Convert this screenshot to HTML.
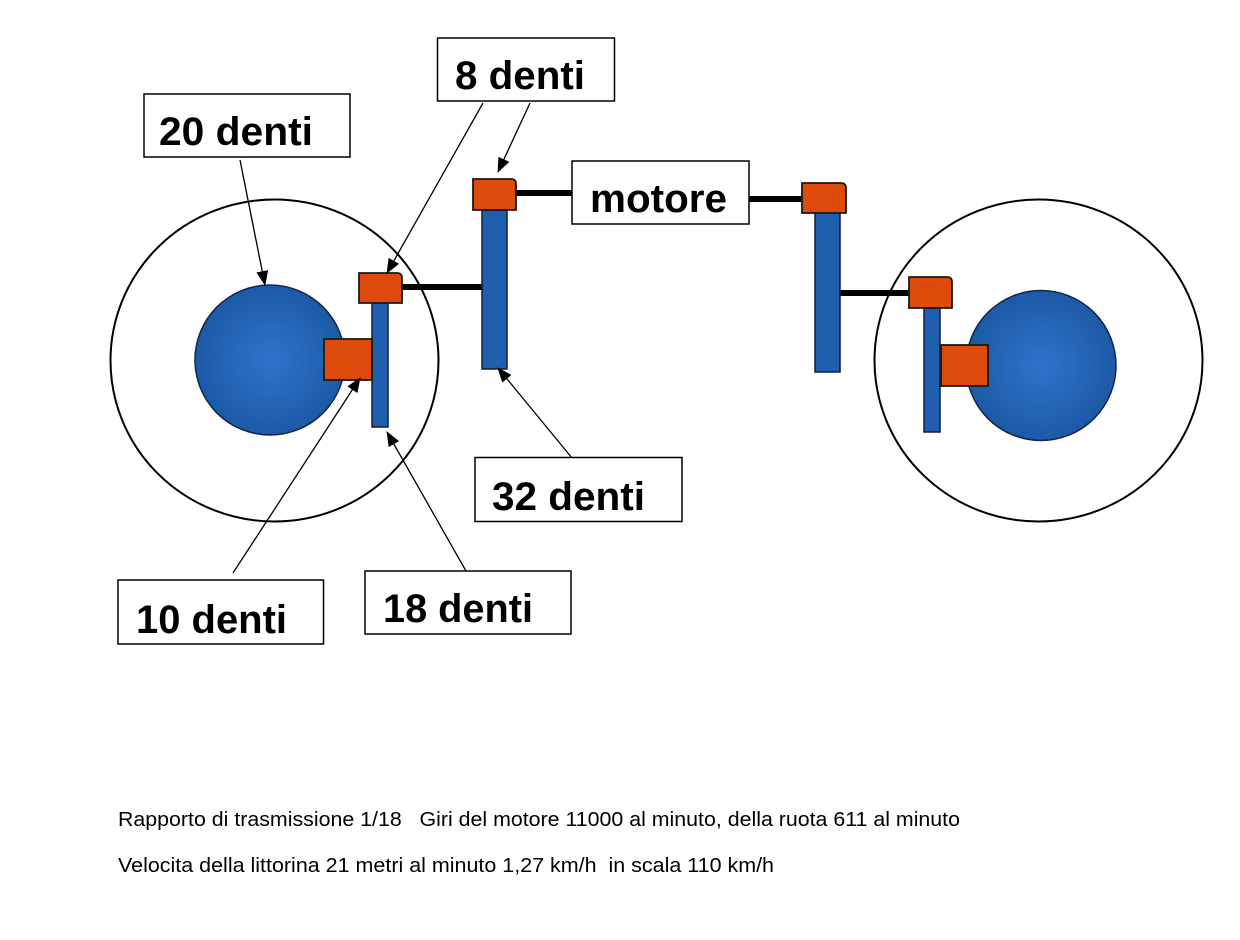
<!DOCTYPE html>
<html>
<head>
<meta charset="utf-8">
<style>
html,body{margin:0;padding:0;background:#fff;}
svg{display:block;}
text{font-family:"Liberation Sans",Arial,sans-serif;}
</style>
</head>
<body>
<svg width="1240" height="940" viewBox="0 0 1240 940" xmlns="http://www.w3.org/2000/svg">
<defs>
<radialGradient id="bg" cx="50%" cy="50%" r="50%">
<stop offset="0" stop-color="#2f74ca"/>
<stop offset="1" stop-color="#1c5aa6"/>
</radialGradient>
<marker id="ah" markerUnits="userSpaceOnUse" markerWidth="16" markerHeight="12" refX="14" refY="6" orient="auto">
<path d="M0,0 L15,6 L0,12 Z" fill="#000"/>
</marker>
</defs>
<rect width="1240" height="940" fill="#fff"/>

<!-- outer wheels -->
<ellipse cx="274.5" cy="360.5" rx="164" ry="161" fill="none" stroke="#000" stroke-width="2"/>
<ellipse cx="1038.5" cy="360.5" rx="164" ry="161" fill="none" stroke="#000" stroke-width="2"/>

<!-- blue discs -->
<circle cx="270" cy="360" r="75" fill="url(#bg)" stroke="#13264a" stroke-width="1.5"/>
<circle cx="1041" cy="365.5" r="75" fill="url(#bg)" stroke="#13264a" stroke-width="1.5"/>

<!-- shafts -->
<line x1="400" y1="287" x2="484" y2="287" stroke="#000" stroke-width="6"/>
<line x1="514" y1="193" x2="573" y2="193" stroke="#000" stroke-width="6"/>
<line x1="748" y1="199" x2="804" y2="199" stroke="#000" stroke-width="6"/>
<line x1="838" y1="293" x2="911" y2="293" stroke="#000" stroke-width="6"/>

<!-- blue bars -->
<rect x="372" y="303" width="16" height="124" fill="#1f5fae" stroke="#0e1e3a" stroke-width="1.5"/>
<rect x="482" y="210" width="25" height="159" fill="#1f5fae" stroke="#0e1e3a" stroke-width="1.5"/>
<rect x="815" y="213" width="25" height="159" fill="#1f5fae" stroke="#0e1e3a" stroke-width="1.5"/>
<rect x="924" y="308" width="16" height="124" fill="#1f5fae" stroke="#0e1e3a" stroke-width="1.5"/>

<!-- orange gears -->
<path d="M359,273 H397 Q402,273 402,278 V303 H359 Z" fill="#dd4a0b" stroke="#1a1a1a" stroke-width="1.8"/>
<path d="M473,179 H511 Q516,179 516,184 V210 H473 Z" fill="#dd4a0b" stroke="#1a1a1a" stroke-width="1.8"/>
<path d="M802,183 H841 Q846,183 846,188 V213 H802 Z" fill="#dd4a0b" stroke="#1a1a1a" stroke-width="1.8"/>
<path d="M909,277 H947 Q952,277 952,282 V308 H909 Z" fill="#dd4a0b" stroke="#1a1a1a" stroke-width="1.8"/>
<rect x="324" y="339" width="48" height="41" fill="#dd4a0b" stroke="#1a1a1a" stroke-width="1.8"/>
<rect x="941" y="345" width="47" height="41" fill="#dd4a0b" stroke="#1a1a1a" stroke-width="1.8"/>

<!-- arrows -->
<g stroke="#000" stroke-width="1.3" fill="none" marker-end="url(#ah)">
<line x1="240" y1="160" x2="265" y2="285"/>
<line x1="483" y1="103" x2="387" y2="273"/>
<line x1="530" y1="103" x2="498" y2="172"/>
<line x1="572" y1="458" x2="498" y2="368"/>
<line x1="233" y1="573" x2="360" y2="378"/>
<line x1="466" y1="571" x2="387" y2="432"/>
</g>

<!-- label boxes -->
<g fill="#fff" stroke="#000" stroke-width="1.5">
<rect x="144" y="94" width="206" height="63"/>
<rect x="437.5" y="38" width="177" height="63"/>
<rect x="572" y="161" width="177" height="63"/>
<rect x="475" y="457.5" width="207" height="64"/>
<rect x="118" y="580" width="205.5" height="64"/>
<rect x="365" y="571" width="206" height="63"/>
</g>

<g font-weight="bold" font-size="40" fill="#000">
<text x="159" y="145" textLength="154" lengthAdjust="spacingAndGlyphs">20 denti</text>
<text x="455" y="89" textLength="130" lengthAdjust="spacingAndGlyphs">8 denti</text>
<text x="590" y="212" textLength="137" lengthAdjust="spacingAndGlyphs">motore</text>
<text x="492" y="510" textLength="153" lengthAdjust="spacingAndGlyphs">32 denti</text>
<text x="136" y="633" textLength="151" lengthAdjust="spacingAndGlyphs">10 denti</text>
<text x="383" y="622" textLength="150" lengthAdjust="spacingAndGlyphs">18 denti</text>
</g>

<g font-size="20" fill="#000">
<text x="118" y="826" textLength="842" lengthAdjust="spacingAndGlyphs" xml:space="preserve">Rapporto di trasmissione 1/18   Giri del motore 11000 al minuto, della ruota 611 al minuto</text>
<text x="118" y="872" textLength="656" lengthAdjust="spacingAndGlyphs" xml:space="preserve">Velocita della littorina 21 metri al minuto 1,27 km/h  in scala 110 km/h</text>
</g>
</svg>
</body>
</html>
